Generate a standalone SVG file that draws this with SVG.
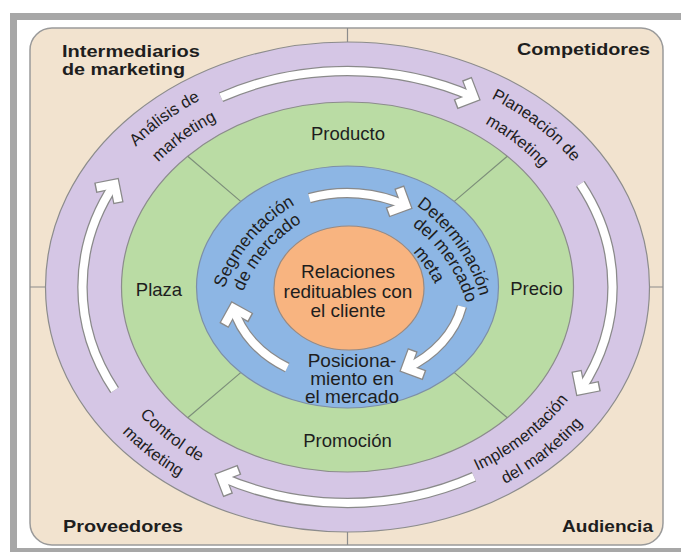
<svg xmlns="http://www.w3.org/2000/svg" width="681" height="552" viewBox="0 0 681 552">
<style>
.lbl{font-family:"Liberation Sans",Arial,sans-serif;fill:#1e1e1e;}
.corner{font-size:17px;font-weight:bold;}
.mix{font-size:18.5px;text-anchor:middle;}
.core{font-size:19px;text-anchor:middle;}
.ring{font-size:16.5px;}
.blue{font-size:17.5px;}
.ol{stroke:#8c8c8c;stroke-width:1.2;}
.div{stroke:#7d8f7a;stroke-width:1.2;fill:none;}
.arrO{fill:none;stroke:#8a8a8a;stroke-width:10.5;marker-end:url(#headO);}
.arrI{fill:none;stroke:#ffffff;stroke-width:8;marker-end:url(#headI);}
</style>
<defs>
<marker id="headO" markerUnits="userSpaceOnUse" markerWidth="50" markerHeight="50" viewBox="-25 -25 50 50" refX="0" refY="0" orient="auto" overflow="visible">
<path d="M-14,-14 L0,0 L-14,14" fill="none" stroke="#8a8a8a" stroke-width="10.5" stroke-linejoin="miter"/>
</marker>
<marker id="headI" markerUnits="userSpaceOnUse" markerWidth="50" markerHeight="50" viewBox="-25 -25 50 50" refX="0" refY="0" orient="auto" overflow="visible">
<path d="M-13,-13 L0,0 L-13,13" fill="none" stroke="#ffffff" stroke-width="8" stroke-linejoin="miter"/>
</marker>
<path id="tpA1" d="M86.4,222.1 A273,222 0 0 1 286.1,70.7"/>
<path id="tpA2" d="M114.6,229.1 A243.5,198 0 0 1 292.7,94.1"/>
<path id="tpP1" d="M418.2,72.6 A273,222 0 0 1 611.2,229.5"/>
<path id="tpP2" d="M410.5,95.7 A243.5,198 0 0 1 582.7,235.8"/>
<path id="tpI1" d="M415.0,491.8 A260.8,212 0 0 0 599.4,341.9"/>
<path id="tpI2" d="M422.3,514.0 A289.1,235 0 0 0 626.7,347.8"/>
<path id="tpC1" d="M95.6,341.9 A260.8,212 0 0 0 280.0,491.8"/>
<path id="tpC2" d="M69.5,347.6 A287.8,234 0 0 0 273.0,513.0"/>
<path id="tpS1" d="M222.4,293.5 A165,165 0 0 1 299.8,201.9"/>
<path id="tpS2" d="M239.6,301.1 A150,150 0 0 1 310.6,217.1"/>
<path id="tpD1" d="M412.5,202.9 A165,165 0 0 1 481.4,301.1"/>
<path id="tpD2" d="M405.5,220.9 A150,150 0 0 1 468.6,311.0"/>
<path id="tpD3" d="M401.2,241.3 A135,135 0 0 1 441.4,298.6"/>
</defs>

<g id="frame">
<rect x="0" y="0" width="681" height="552" fill="#ffffff"/>
<rect x="10" y="13" width="671" height="7" fill="#a7a7a7"/>
<rect x="10" y="13" width="7" height="539" fill="#a7a7a7"/>
<rect x="10" y="548" width="671" height="4" fill="#a7a7a7"/>
<rect x="30" y="28" width="633" height="517" rx="22" fill="#f2e3cf" stroke="#9a9a9a" stroke-width="1.5"/>
<path d="M347.5,28 V42 M347.5,532 V545 M30,287 H45.5 M649.5,287 H663" class="ol" fill="none"/>
</g>

<g id="environment">
<text class="lbl corner" x="62" y="57" textLength="138" lengthAdjust="spacingAndGlyphs">Intermediarios</text>
<text class="lbl corner" x="62" y="75" textLength="123" lengthAdjust="spacingAndGlyphs">de marketing</text>
<text class="lbl corner" x="517" y="55" textLength="133" lengthAdjust="spacingAndGlyphs">Competidores</text>
<text class="lbl corner" x="63" y="532" textLength="120" lengthAdjust="spacingAndGlyphs">Proveedores</text>
<text class="lbl corner" x="562" y="532" textLength="91" lengthAdjust="spacingAndGlyphs">Audiencia</text>
</g>

<g id="ring-management">
<ellipse cx="347.5" cy="287" rx="302" ry="245" fill="#d5c6e5" class="ol"/>
</g>
<g id="ring-mix">
<ellipse cx="347.5" cy="287" rx="226" ry="185" fill="#badca4" class="ol"/>
<path class="div" d="M454.3,372.6 L507.3,417.8 M454.3,201.4 L507.3,156.2 M240.7,201.4 L187.7,156.2 M240.7,372.6 L187.7,417.8"/>
</g>
<g id="ring-strategy">
<ellipse cx="347.5" cy="287" rx="151" ry="121" fill="#8db6e4" stroke="#7d8fa6" stroke-width="1.2"/>
</g>
<g id="core">
<ellipse cx="349" cy="288" rx="75" ry="62" fill="#f8b480" stroke="#9a8a80" stroke-width="1.2"/>
<text class="lbl core" x="348" y="278">Relaciones</text>
<text class="lbl core" x="348" y="298">redituables con</text>
<text class="lbl core" x="348" y="317">el cliente</text>
</g>

<g id="connectors">
<path class="arrO" d="M221,97.2 A265,216 0 0 1 474,97.2"/>
<path class="arrI" d="M221,97.2 A265,216 0 0 1 474,97.2"/>
<path class="arrO" d="M580.4,183.9 A265,216 0 0 1 580.4,390.1"/>
<path class="arrI" d="M580.4,183.9 A265,216 0 0 1 580.4,390.1"/>
<path class="arrO" d="M474,476.8 A265,216 0 0 1 221,476.8"/>
<path class="arrI" d="M474,476.8 A265,216 0 0 1 221,476.8"/>
<path class="arrO" d="M114.6,390.1 A265,216 0 0 1 114.6,183.9"/>
<path class="arrI" d="M114.6,390.1 A265,216 0 0 1 114.6,183.9"/>
<path class="arrO" d="M309.4,198.1 A117,94 0 0 1 406,205.6"/>
<path class="arrI" d="M309.4,198.1 A117,94 0 0 1 406,205.6"/>
<path class="arrO" d="M461.9,306.5 A117,94 0 0 1 406,368.4"/>
<path class="arrI" d="M461.9,306.5 A117,94 0 0 1 406,368.4"/>
<path class="arrO" d="M287.2,367.6 A117,94 0 0 1 233.5,308.2"/>
<path class="arrI" d="M287.2,367.6 A117,94 0 0 1 233.5,308.2"/>
</g>

<g id="analisis">
<text class="lbl ring"><textPath href="#tpA1" startOffset="50%" text-anchor="middle">Análisis de</textPath></text>
<text class="lbl ring"><textPath href="#tpA2" startOffset="50%" text-anchor="middle">marketing</textPath></text>
</g>
<g id="planeacion">
<text class="lbl ring"><textPath href="#tpP1" startOffset="50%" text-anchor="middle">Planeación de</textPath></text>
<text class="lbl ring"><textPath href="#tpP2" startOffset="50%" text-anchor="middle">marketing</textPath></text>
</g>
<g id="implementacion">
<text class="lbl ring"><textPath href="#tpI1" startOffset="50%" text-anchor="middle">Implementación</textPath></text>
<text class="lbl ring"><textPath href="#tpI2" startOffset="50%" text-anchor="middle">del marketing</textPath></text>
</g>
<g id="control">
<text class="lbl ring"><textPath href="#tpC1" startOffset="50%" text-anchor="middle">Control de</textPath></text>
<text class="lbl ring"><textPath href="#tpC2" startOffset="50%" text-anchor="middle">marketing</textPath></text>
</g>

<g id="producto"><text class="lbl mix" x="348" y="140">Producto</text></g>
<g id="plaza"><text class="lbl mix" x="159" y="296">Plaza</text></g>
<g id="precio"><text class="lbl mix" x="536.5" y="295">Precio</text></g>
<g id="promocion"><text class="lbl mix" x="347.5" y="447">Promoción</text></g>

<g id="segmentacion">
<text class="lbl blue"><textPath href="#tpS1" startOffset="50%" text-anchor="middle">Segmentación</textPath></text>
<text class="lbl blue"><textPath href="#tpS2" startOffset="50%" text-anchor="middle">de mercado</textPath></text>
</g>
<g id="determinacion">
<text class="lbl blue"><textPath href="#tpD1" startOffset="50%" text-anchor="middle">Determinación</textPath></text>
<text class="lbl blue"><textPath href="#tpD2" startOffset="50%" text-anchor="middle">del mercado</textPath></text>
<text class="lbl blue"><textPath href="#tpD3" startOffset="50%" text-anchor="middle">meta</textPath></text>
</g>
<g id="posicionamiento">
<text class="lbl core" x="352" y="367">Posiciona-</text>
<text class="lbl core" x="352" y="385">miento en</text>
<text class="lbl core" x="352" y="403">el mercado</text>
</g>
</svg>
